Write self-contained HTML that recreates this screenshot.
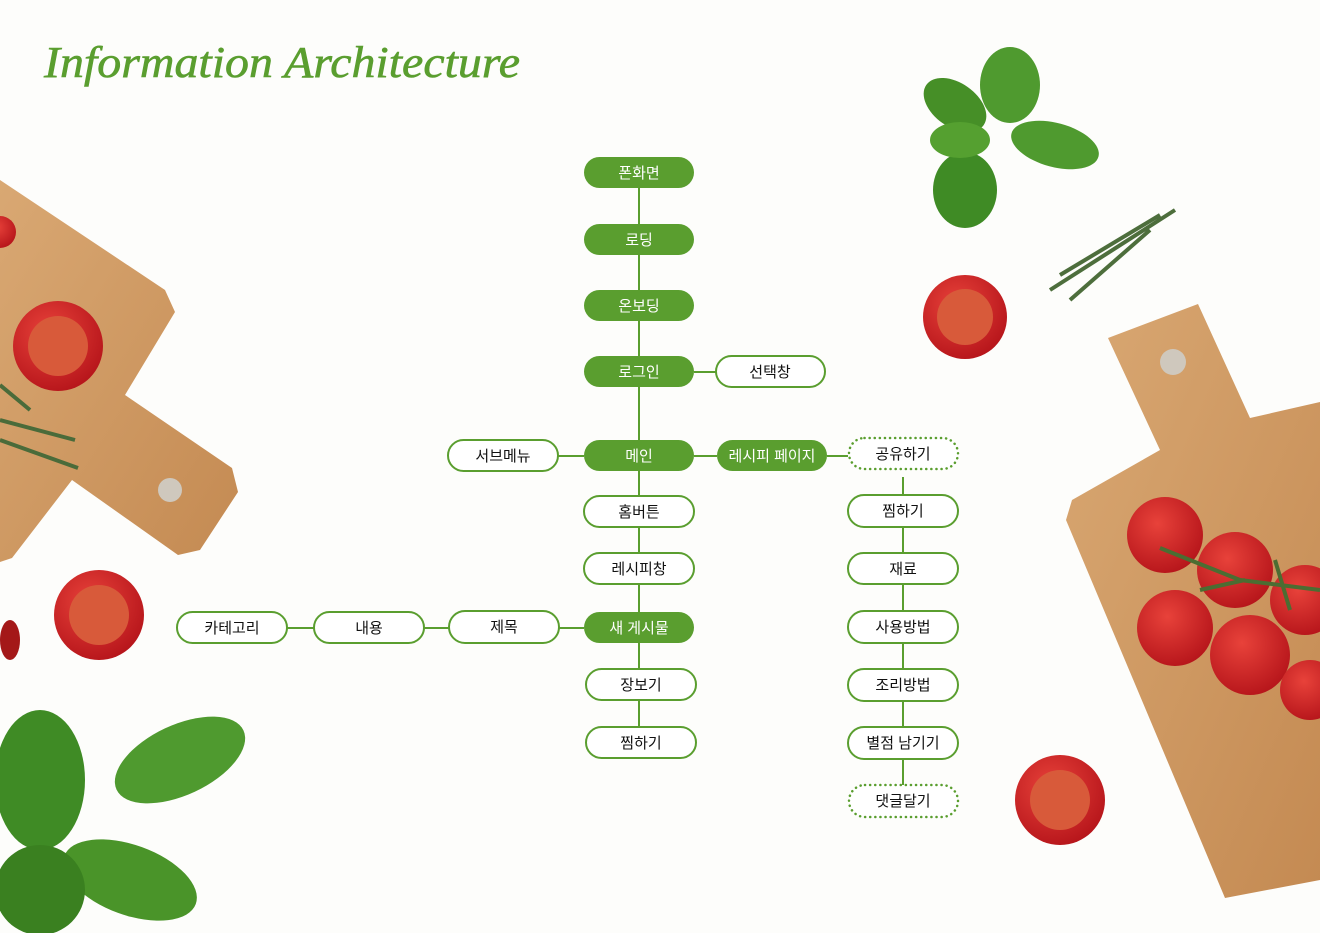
<!DOCTYPE html>
<html><head><meta charset="utf-8"><style>
html,body{margin:0;padding:0;background:#fdfdfb;}
svg{display:block}
text{font-family:"Liberation Sans","Noto Sans CJK KR",sans-serif;}
text.title{font-family:"Liberation Serif",serif;font-style:italic;}
</style></head><body>
<svg width="1320" height="933" viewBox="0 0 1320 933" xmlns="http://www.w3.org/2000/svg">
<defs>
<linearGradient id="wood" x1="0" y1="0" x2="1" y2="1"><stop offset="0" stop-color="#d9a873"/><stop offset="1" stop-color="#c48a52"/></linearGradient>
<radialGradient id="tom" cx="0.4" cy="0.35" r="0.7"><stop offset="0" stop-color="#e8423a"/><stop offset="1" stop-color="#b5141a"/></radialGradient>
</defs>
<rect width="1320" height="933" fill="#fdfdfb"/>
<text class="title" x="44" y="77" font-size="44" fill="#5a9e2f" textLength="476" lengthAdjust="spacingAndGlyphs" stroke="#5a9e2f" stroke-width="0.6">Information Architecture</text>

<!-- left board -->
<polygon points="0,180 165,290 175,312 125,395 232,468 238,492 200,550 178,555 72,480 12,558 0,562" fill="url(#wood)"/>
<circle cx="170" cy="490" r="12" fill="#cfc8bd"/>
<circle cx="0" cy="232" r="16" fill="url(#tom)"/>
<circle cx="58" cy="346" r="45" fill="url(#tom)"/>
<circle cx="58" cy="346" r="30" fill="#d85a3a"/>
<path d="M0,420 L75,440 M0,440 L78,468 M0,385 L30,410" stroke="#4a6b3a" stroke-width="4"/>
<circle cx="99" cy="615" r="45" fill="url(#tom)"/>
<circle cx="99" cy="615" r="30" fill="#d85a3a"/>
<ellipse cx="10" cy="640" rx="10" ry="20" fill="#a41818"/>
<!-- bottom-left basil -->
<ellipse cx="180" cy="760" rx="70" ry="35" transform="rotate(-25 180 760)" fill="#4f9a2f"/>
<ellipse cx="40" cy="780" rx="45" ry="70" fill="#3f8b25"/>
<ellipse cx="130" cy="880" rx="70" ry="35" transform="rotate(20 130 880)" fill="#4a9429"/>
<ellipse cx="40" cy="890" rx="45" ry="45" fill="#3a8020"/>
<!-- top-right basil -->
<ellipse cx="1010" cy="85" rx="30" ry="38" fill="#4f9a2f"/>
<ellipse cx="955" cy="105" rx="35" ry="22" transform="rotate(35 955 105)" fill="#468f27"/>
<ellipse cx="1055" cy="145" rx="45" ry="22" transform="rotate(15 1055 145)" fill="#4f9a2f"/>
<ellipse cx="965" cy="190" rx="32" ry="38" fill="#3f8b25"/>
<ellipse cx="960" cy="140" rx="30" ry="18" fill="#55a030"/>
<path d="M1050,290 L1175,210 M1060,275 L1160,215 M1070,300 L1150,230" stroke="#4d6e3c" stroke-width="4"/>
<circle cx="965" cy="317" r="42" fill="url(#tom)"/>
<circle cx="965" cy="317" r="28" fill="#d85a3a"/>
<!-- right board -->
<polygon points="1108,338 1198,304 1250,418 1320,402 1320,880 1225,898 1066,520 1072,500 1160,450" fill="url(#wood)"/>
<circle cx="1173" cy="362" r="13" fill="#cfc8bd"/>
<circle cx="1165" cy="535" r="38" fill="url(#tom)"/>
<circle cx="1235" cy="570" r="38" fill="url(#tom)"/>
<circle cx="1175" cy="628" r="38" fill="url(#tom)"/>
<circle cx="1250" cy="655" r="40" fill="url(#tom)"/>
<circle cx="1305" cy="600" r="35" fill="url(#tom)"/>
<circle cx="1310" cy="690" r="30" fill="url(#tom)"/>
<path d="M1160,548 L1240,580 L1320,590 M1200,590 L1245,580 M1275,560 L1290,610" stroke="#4b6d32" stroke-width="4" fill="none"/>
<circle cx="1060" cy="800" r="45" fill="url(#tom)"/>
<circle cx="1060" cy="800" r="30" fill="#d85a3a"/>

<!-- connectors -->
<g stroke="#5a9e2f" stroke-width="2" fill="none">
<line x1="639" y1="188" x2="639" y2="727"/>
<line x1="694" y1="372" x2="716" y2="372"/>
<line x1="558" y1="456" x2="584" y2="456"/>
<line x1="694" y1="456" x2="717" y2="456"/>
<line x1="827" y1="456" x2="848" y2="456"/>
<line x1="903" y1="477" x2="903" y2="785"/>
<line x1="287" y1="628" x2="584" y2="628"/>
</g>

<g font-size="15" text-anchor="middle">
<g fill="#5a9e2f">
<rect x="584" y="157" width="110" height="31" rx="15.5"/>
<rect x="584" y="224" width="110" height="31" rx="15.5"/>
<rect x="584" y="290" width="110" height="31" rx="15.5"/>
<rect x="584" y="356" width="110" height="31" rx="15.5"/>
<rect x="584" y="440" width="110" height="31" rx="15.5"/>
<rect x="717" y="440" width="110" height="31" rx="15.5"/>
<rect x="584" y="612" width="110" height="31" rx="15.5"/>
</g>
<g fill="#fff">
<text x="639" y="178">폰화면</text>
<text x="639" y="245">로딩</text>
<text x="639" y="311">온보딩</text>
<text x="639" y="377">로그인</text>
<text x="639" y="461">메인</text>
<text x="772" y="461">레시피 페이지</text>
<text x="639" y="633">새 게시물</text>
</g>
<g fill="#fff" stroke="#5a9e2f" stroke-width="2">
<rect x="716" y="356" width="109" height="31" rx="15.5"/>
<rect x="448" y="440" width="110" height="31" rx="15.5"/>
<rect x="584" y="496" width="110" height="31" rx="15.5"/>
<rect x="584" y="553" width="110" height="31" rx="15.5"/>
<rect x="449" y="611" width="110" height="32" rx="16"/>
<rect x="314" y="612" width="110" height="31" rx="15.5"/>
<rect x="177" y="612" width="110" height="31" rx="15.5"/>
<rect x="586" y="669" width="110" height="31" rx="15.5"/>
<rect x="586" y="727" width="110" height="31" rx="15.5"/>
<rect x="848" y="495" width="110" height="32" rx="16"/>
<rect x="848" y="553" width="110" height="31" rx="15.5"/>
<rect x="848" y="611" width="110" height="32" rx="16"/>
<rect x="848" y="669" width="110" height="32" rx="16"/>
<rect x="848" y="727" width="110" height="32" rx="16"/>
</g>
<g fill="#fff" stroke="#5a9e2f" stroke-width="2.5" stroke-dasharray="0.1 5" stroke-linecap="round">
<rect x="849" y="438" width="109" height="31" rx="15.5"/>
<rect x="849" y="785" width="109" height="32" rx="16"/>
</g>
<g fill="#111">
<text x="770" y="377">선택창</text>
<text x="503" y="461">서브메뉴</text>
<text x="639" y="517">홈버튼</text>
<text x="639" y="574">레시피창</text>
<text x="504" y="632">제목</text>
<text x="369" y="633">내용</text>
<text x="232" y="633">카테고리</text>
<text x="641" y="690">장보기</text>
<text x="641" y="748">찜하기</text>
<text x="903" y="459">공유하기</text>
<text x="903" y="516">찜하기</text>
<text x="903" y="574">재료</text>
<text x="903" y="632">사용방법</text>
<text x="903" y="690">조리방법</text>
<text x="903" y="748">별점 남기기</text>
<text x="903" y="806">댓글달기</text>
</g>
</g>
</svg>
</body></html>
